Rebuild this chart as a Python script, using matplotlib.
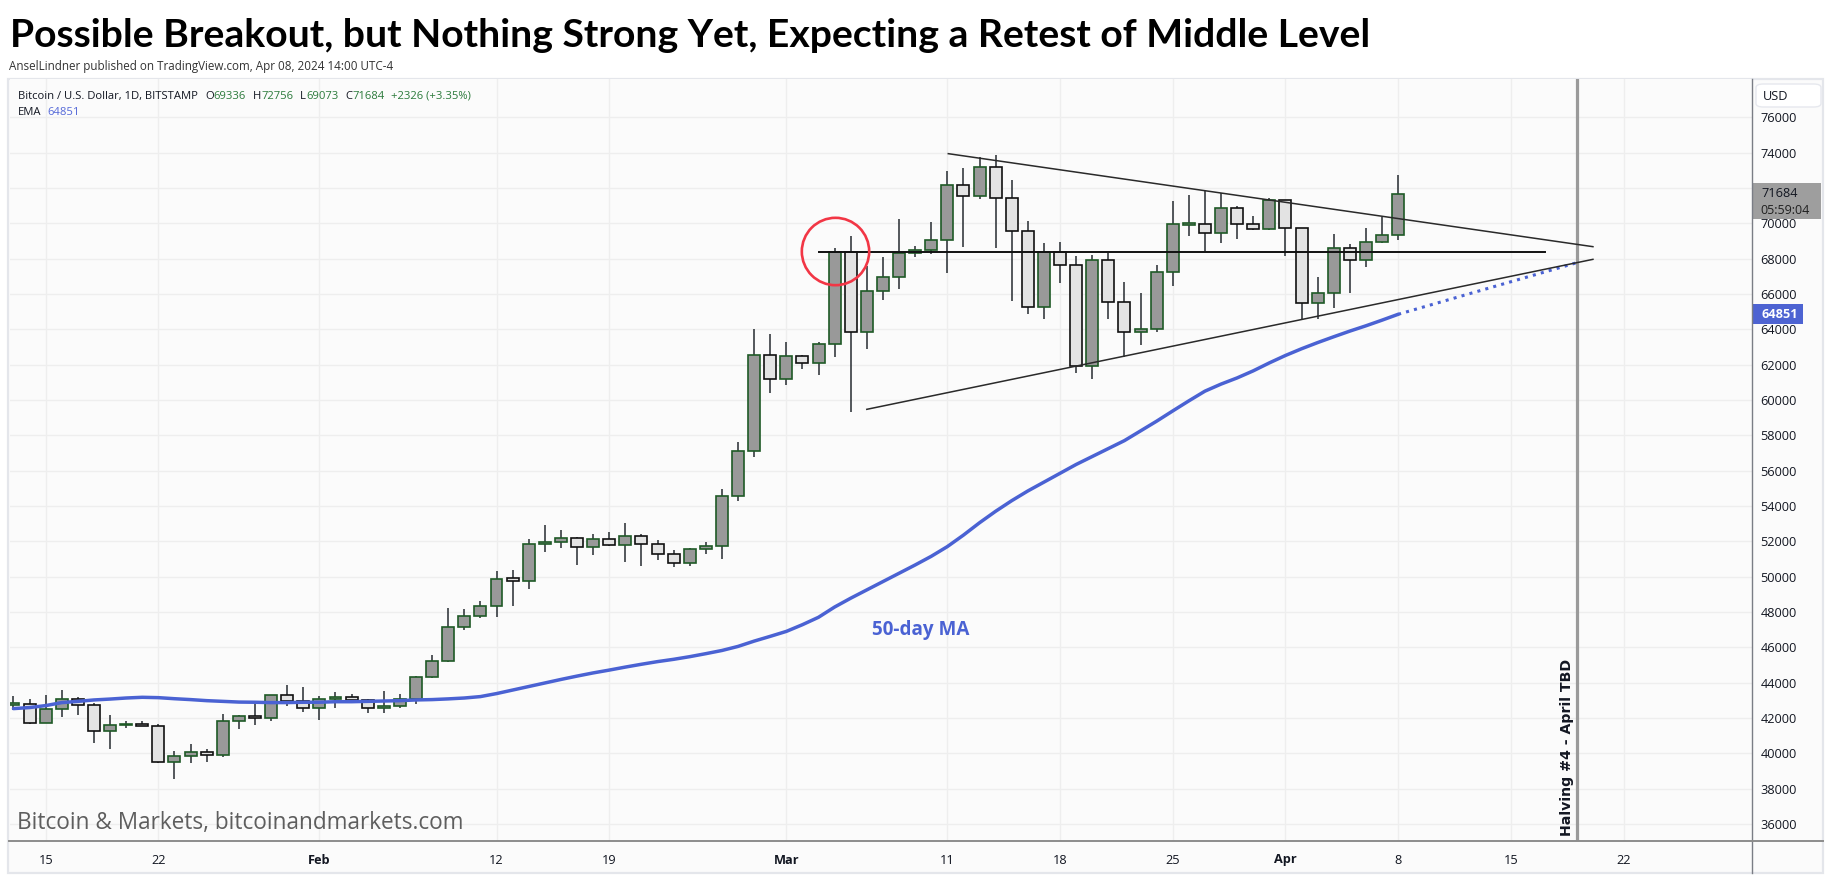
import numpy as np
import pandas as pd
import matplotlib
matplotlib.use('Agg')
import matplotlib.pyplot as plt
import matplotlib.dates as mdates
import matplotlib.transforms as mtransforms
from matplotlib.patches import Rectangle, FancyBboxPatch
from matplotlib.lines import Line2D

# ---------------- DATA ----------------
start_date = '2024-01-13'
opens = [42770, 42810, 41697, 42489, 43093, 42716, 41244, 41600, 41640, 41527,
         39489, 39829, 40055, 39885, 41810, 42093, 41980, 43282, 42942, 42546,
         43056, 43169, 43000, 42546, 42659, 43056, 44301, 45244, 47131, 47754,
         48320, 49905, 49736, 51830, 51943, 52170, 51660, 52150, 51774, 52283,
         51830, 51264, 50755, 51547, 51717, 54547, 57095, 62529, 61170, 62472,
         62076, 63152, 68360, 63831, 66152, 66944, 68303, 68473, 69039, 72153,
         71530, 73172, 71417, 69549, 65246, 68360, 67624, 61906, 67907, 65529,
         63831, 64001, 67228, 69945, 69983, 69436, 70851, 69945, 69662, 71304,
         69719, 65473, 66039, 68586, 67907, 68926, 69336]
highs = [43244, 43074, 43301, 43584, 43169, 42829, 42169, 41829, 41829, 41640,
         40131, 40527, 40263, 42225, 42190, 42791, 43300, 43867, 43754, 43244,
         43471, 43358, 43074, 43527, 43358, 44357, 45565, 48207, 48170, 48622,
         50321, 50377, 52132, 52925, 52642, 52226, 52415, 52528, 53038, 52396,
         52057, 51491, 51641, 51943, 54960, 57623, 64020, 63737, 63284, 62567,
         63284, 68605, 69284, 67600, 68095, 70247, 68718, 70077, 72964, 73134,
         73738, 73870, 72455, 70152, 68888, 68945, 68133, 68190, 68322, 66662,
         66039, 67643, 71266, 71605, 71832, 71700, 70983, 70417, 71417, 71350,
         69750, 66963, 69379, 68813, 69737, 70379, 72756]
lows = [42451, 41650, 41690, 42074, 42188, 40602, 40263, 41451, 41520, 39440,
        38550, 39470, 39527, 39810, 41395, 41621, 41810, 42697, 42320, 41867,
        42546, 42885, 42263, 42263, 42546, 42772, 44250, 45150, 46962, 47641,
        47736, 48358, 49302, 51415, 51641, 50679, 51245, 51750, 50811, 50623,
        50962, 50566, 50623, 51302, 50981, 54300, 56793, 60415, 60850, 61736,
        61434, 62453, 59340, 62887, 65680, 66303, 68114, 68284, 67208, 68681,
        71398, 68624, 65623, 64850, 64605, 66643, 61510, 61170, 64605, 62416,
        63095, 63869, 66473, 69303, 68454, 68907, 69133, 69600, 69600, 68133,
        64586, 64567, 65190, 66077, 67548, 68900, 69073]
closes = [42810, 41697, 42489, 43093, 42716, 41244, 41584, 41640, 41527, 39489,
          39829, 40055, 39885, 41810, 42093, 41980, 43282, 42942, 42546, 43056,
          43169, 43000, 42546, 42659, 43056, 44301, 45244, 47131, 47754, 48320,
          49886, 49736, 51830, 51943, 52170, 51660, 52113, 51774, 52283, 51830,
          51264, 50755, 51547, 51717, 54547, 57095, 62529, 61170, 62472, 62076,
          63152, 68360, 63831, 66152, 66944, 68303, 68473, 69039, 72153, 71530,
          73172, 71417, 69549, 65246, 68360, 67624, 61906, 67907, 65529, 63831,
          64001, 67228, 69945, 69983, 69436, 70851, 69945, 69662, 71304, 69719,
          65473, 66039, 68586, 67907, 68926, 69358, 71684]
ema50 = [42530, 42590, 42700, 42870, 42940, 43020, 43070, 43130, 43170, 43150,
         43090, 43040, 42980, 42940, 42900, 42890, 42870, 42870, 42890, 42890,
         42920, 42920, 42940, 42960, 42980, 43020, 43040, 43080, 43130, 43210,
         43380, 43580, 43780, 43980, 44180, 44370, 44550, 44710, 44880, 45040,
         45190, 45320, 45470, 45640, 45820, 46050, 46350, 46620, 46900, 47280,
         47700, 48280, 48780, 49250, 49720, 50190, 50660, 51150, 51700, 52350,
         53050, 53700, 54300, 54850, 55350, 55850, 56350, 56800, 57250, 57700,
         58250, 58800, 59380, 59950, 60500, 60900, 61250, 61650, 62100, 62520,
         62900, 63250, 63580, 63900, 64200, 64520, 64851]

# projected (dotted) continuation of the MA
ema_proj_dates = ['2024-04-08 00:00', '2024-04-19 02:24']
ema_proj_prices = [64851, 67773]

# drawn trend lines (dates, prices)
upper_line_dates = ['2024-03-11 01:26', '2024-04-20 02:24']
upper_line_prices = [73945, 68680]
middle_line_dates = ['2024-03-03 00:00', '2024-04-17 02:24']
middle_line_prices = [68360, 68360]
lower_line_dates = ['2024-03-06 00:00', '2024-04-20 02:24']
lower_line_prices = [59472, 67963]

circle_date = '2024-03-04 01:00'
circle_price = 68435
halving_date = '2024-04-19 02:24'

xtick_dates = ['2024-01-15', '2024-01-22', '2024-02-01', '2024-02-12', '2024-02-19',
               '2024-03-01', '2024-03-11', '2024-03-18', '2024-03-25', '2024-04-01',
               '2024-04-08', '2024-04-15', '2024-04-22']
xtick_labels = ['15', '22', 'Feb', '12', '19', 'Mar', '11', '18', '25', 'Apr', '8', '15', '22']
ytick_values = list(range(36000, 76001, 2000))

title = 'Possible Breakout, but Nothing Strong Yet, Expecting a Retest of Middle Level'
subtitle = 'AnselLindner published on TradingView.com, Apr 08, 2024 14:00 UTC-4'
symbol_text = 'Bitcoin / U.S. Dollar, 1D, BITSTAMP'
timer_text = '05:59:04'


def dnum(lst):
    return mdates.date2num(pd.to_datetime(lst, format='ISO8601'))


# ---------------- FIGURE ----------------
W, H = 1835, 885
fig = plt.figure(figsize=(W / 100, H / 100), dpi=100)
fig.patch.set_facecolor('white')
R = fig.canvas.get_renderer()

def fx(px):
    return px / W

def fy(py):
    return 1 - py / H

def fit(t, target_w):
    for _ in range(4):
        w = t.get_window_extent(R).width
        t.set_fontsize(t.get_fontsize() * target_w / w)

# chart frame / background
fig.add_artist(Rectangle((fx(8), fy(873)), fx(1823) - fx(8), fy(79) - fy(873),
                         transform=fig.transFigure, fc='#fbfbfb', ec='#e4e6eb', lw=1.6, zorder=0))

ax = fig.add_axes([fx(10), fy(841), fx(1752) - fx(10), fy(79) - fy(841)])
ax.set_facecolor('#fbfbfb')
for s in ax.spines.values():
    s.set_visible(False)

dates = pd.date_range(start_date, periods=len(closes), freq='D')
xd = mdates.date2num(dates)
x0 = xd[0]
ax.set_xlim(x0 - 0.217, x0 + 107.98)
ax.set_ylim(35035, 78172)

# grid
ax.set_yticks(ytick_values)
ax.set_yticklabels([str(v) for v in ytick_values])
ax.set_xticks(dnum(xtick_dates))
ax.set_xticklabels(xtick_labels)
ax.grid(True, color='#eeeeee', lw=1.0, zorder=0)
ax.set_axisbelow(True)
ax.yaxis.tick_right()
ax.tick_params(axis='y', length=0, pad=6, labelsize=9.2, labelcolor='#131722')
ax.tick_params(axis='x', length=0, pad=9, labelsize=9.2, labelcolor='#131722')
for lab in ax.get_yticklabels() + ax.get_xticklabels():
    lab.set_fontfamily('Open Sans')
for lab in ax.get_xticklabels():
    if lab.get_text() in ('Feb', 'Mar', 'Apr'):
        lab.set_fontweight('bold')

# candles
bw = 0.745
for xi, o, h, l, c in zip(xd, opens, highs, lows, closes):
    ax.vlines(xi, l, h, color='#252b30', lw=1.1, zorder=2)
    up = c >= o
    bottom = min(o, c)
    height = max(abs(c - o), 70)
    if abs(c - o) < 70:
        bottom = (o + c) / 2 - 35
    ax.add_patch(Rectangle((xi - bw / 2, bottom), bw, height,
                           fc='#999999' if up else '#e3e3e3',
                           ec='#1e5a26' if up else '#111111', lw=1.2, zorder=3))

# moving average
blue = '#4a62d3'
ax.plot(xd, ema50, color=blue, lw=2.5, solid_capstyle='round', zorder=4)
ax.plot(dnum(ema_proj_dates), ema_proj_prices, color=blue,
        lw=2.2, linestyle=(0, (1, 1.7)), zorder=4)

# trend lines
ax.plot(dnum(upper_line_dates), upper_line_prices, color='#2a2a2a', lw=1.1, zorder=5)
ax.plot(dnum(middle_line_dates), middle_line_prices, color='#111111', lw=1.4, zorder=5)
ax.plot(dnum(lower_line_dates), lower_line_prices, color='#2a2a2a', lw=1.1, zorder=5)

# red circle
ax.plot(dnum([circle_date]), [circle_price], marker='o', ms=48.5,
        mfc='none', mec='#f23645', mew=1.9, zorder=6)

# halving line and label
hx = dnum([halving_date])[0]
ax.axvline(hx, color='#9a9a9a', lw=2.3, zorder=4)
thv = ax.annotate('Halving #4 - April TBD', xy=(hx, 0), xycoords=('data', 'axes fraction'),
                  xytext=(-10, 5), textcoords='offset pixels', rotation=90, ha='center', va='bottom',
                  fontsize=10.2, fontweight='bold', color='#131722', family='DejaVu Sans')

# 50-day MA label
t50 = ax.text(x0 + 53.3, 46980, '50-day MA', color=blue, fontsize=11.5, fontweight='bold',
              family='Open Sans', ha='left', va='center', zorder=6)

# watermark
twm = ax.text(x0 + 0.2, 36050, 'Bitcoin & Markets, bitcoinandmarkets.com', color='#5e5e5e',
              fontsize=16, family='Open Sans', ha='left', va='center', zorder=6)

# axis separator lines
fig.add_artist(Line2D([fx(1752), fx(1752)], [fy(873), fy(79)], color='#7a7d85', lw=1.0,
                      transform=fig.transFigure, zorder=10))
fig.add_artist(Line2D([fx(9), fx(1823)], [fy(841), fy(841)], color='#8c8c8c', lw=1.4,
                      transform=fig.transFigure, zorder=10))

# price labels on the right axis
bt = mtransforms.blended_transform_factory(ax.transAxes, ax.transData)
ax_w_px = 1752 - 10
ppp = (78172 - 35035) / (841 - 79)  # price per pixel
last = closes[-1]
ax.add_patch(Rectangle((1.0, last - 25.7 * ppp), 69 / ax_w_px, 36 * ppp, transform=bt,
                       fc='#9e9e9e', ec='none', clip_on=False, zorder=20))
ax.text(1.0 + 9 / ax_w_px, last, f'{last}', transform=bt, ha='left', va='center',
        fontsize=9.2, family='Open Sans', color='#131722', zorder=21, clip_on=False)
ax.text(1.0 + 8 / ax_w_px, last - 16.7 * ppp, timer_text, transform=bt, ha='left', va='center',
        fontsize=9.0, family='Open Sans', color='#202020', zorder=21, clip_on=False)
ema_last = ema50[-1]
ax.add_patch(Rectangle((1.0, ema_last - 10 * ppp), 51 / ax_w_px, 20 * ppp, transform=bt,
                       fc='#4d63d2', ec='none', clip_on=False, zorder=20))
ax.text(1.0 + 9 / ax_w_px, ema_last, f'{ema_last}', transform=bt, ha='left', va='center',
        fontsize=9.2, family='Open Sans', fontweight='bold', color='white', zorder=21, clip_on=False)

# USD box
fig.add_artist(FancyBboxPatch((fx(1756), fy(107)), fx(1821) - fx(1756), fy(84) - fy(107),
                              boxstyle='round,pad=0,rounding_size=0.004', transform=fig.transFigure,
                              fc='white', ec='#e6e8ee', lw=1.0, zorder=11))
fig.text(fx(1763), fy(96), 'USD', ha='left', va='center', fontsize=9.2, family='Open Sans',
         color='#131722', zorder=12)

# ---------------- HEADER TEXT ----------------
tt = fig.text(fx(10), fy(47), title, fontsize=24, fontweight='bold', family='Lato',
              ha='left', va='baseline', color='black')
fit(tt, 1365)
ts = fig.text(fx(9), fy(70), subtitle, fontsize=8, family='Open Sans', ha='left', va='baseline',
              color='#333333')
fit(ts, 381)

# legend line: pieces flowed left to right, scaled to span the reference width
green = '#2b7a3b'
dark = '#131722'
chg = closes[-1] - closes[-2]
pct = chg / closes[-2] * 100
pieces = [(symbol_text, dark, 0),
          ('O', dark, 1), (f'{opens[-1]}', green, 0),
          ('H', dark, 1), (f'{highs[-1]}', green, 0),
          ('L', dark, 1), (f'{lows[-1]}', green, 0),
          ('C', dark, 1), (f'{closes[-1]}', green, 0),
          (f'+{chg} (+{pct:.2f}%)', green, 1)]
leg_y = fy(99)
leg_texts = [fig.text(0, leg_y, s, color=col, fontsize=9, family='Open Sans', ha='left', va='baseline')
             for s, col, _ in pieces]
target_total = 477 - 18
for _ in range(4):
    fs = leg_texts[0].get_fontsize()
    gap = 0.62 * fs * 100 / 72
    total = sum(t.get_window_extent(R).width for t in leg_texts) + gap * sum(g for _, _, g in pieces)
    nfs = fs * target_total / total
    for t in leg_texts:
        t.set_fontsize(nfs)
fs = leg_texts[0].get_fontsize()
gap = 0.62 * fs * 100 / 72
xpos = 18
for t, (s, col, g) in zip(leg_texts, pieces):
    xpos += gap * g
    t.set_x(fx(xpos))
    xpos += t.get_window_extent(R).width

fig.text(fx(18), fy(115), 'EMA', fontsize=fs, family='Open Sans', ha='left', va='baseline', color=dark)
fig.text(fx(47.5), fy(115), f'{ema_last}', fontsize=fs, family='Open Sans', ha='left', va='baseline',
         color='#5468d8')

fit(twm, 449)
fit(t50, 97)

fig.savefig('out.png', dpi=100, facecolor='white')
